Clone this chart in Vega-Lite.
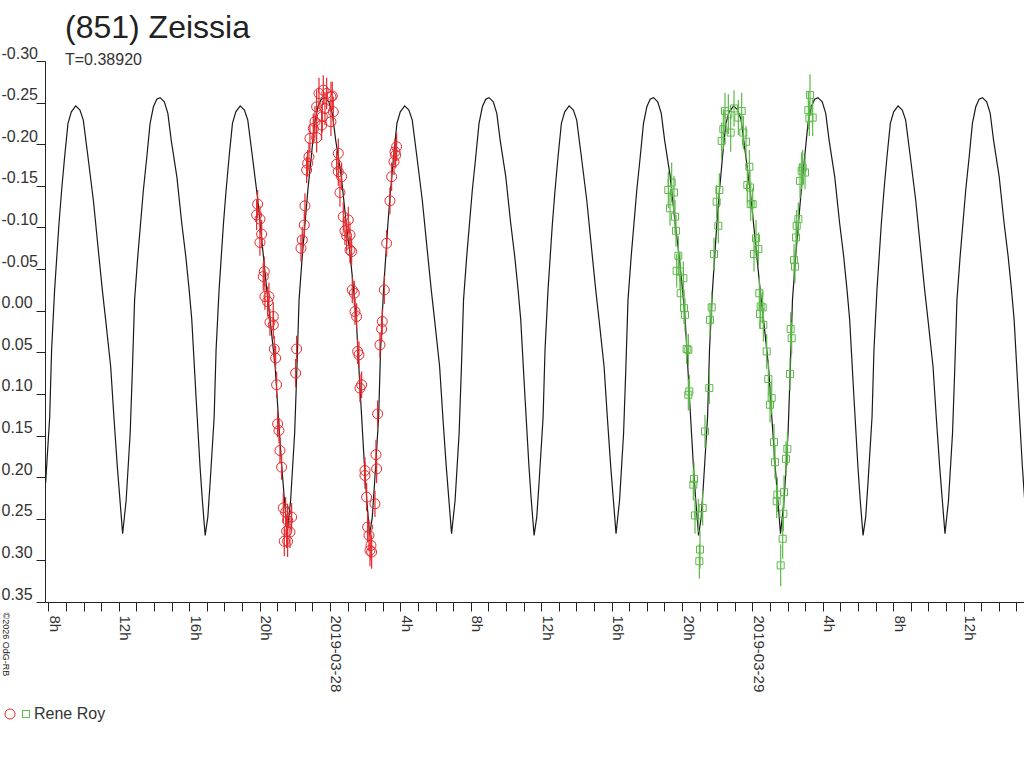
{
  "$schema": "https://vega.github.io/schema/vega-lite/v6.json",
  "width": 979,
  "height": 541,
  "autosize": {"type": "none"},
  "padding": {"left": 45, "top": 61, "right": 0, "bottom": 166},
  "background": "white",
  "config": {
    "view": {"stroke": null},
    "font": "Liberation Sans",
    "legend": {"columnPadding": 0, "padding": 0, "offset": 0}
  },
  "title": {
    "text": "(851) Zeissia",
    "subtitle": "T=0.38920",
    "anchor": "start",
    "frame": "group",
    "font": "Liberation Sans",
    "fontSize": 32,
    "fontWeight": "normal",
    "color": "#222222",
    "subtitleFont": "Liberation Sans",
    "subtitleFontSize": 16,
    "subtitleColor": "#333333",
    "subtitlePadding": 7,
    "dx": 20,
    "offset": -24
  },
  "datasets": {
    "curve": [
      {"h":-16.154,"m":0.207},{"h":-15.924,"m":0.128},{"h":-15.814,"m":0.047},{"h":-15.644,"m":-0.025},{"h":-15.394,"m":-0.105},{"h":-15.244,"m":-0.145},{"h":-15.074,"m":-0.185},{"h":-14.884,"m":-0.225},{"h":-14.694,"m":-0.239},{"h":-14.444,"m":-0.246},{"h":-14.204,"m":-0.241},{"h":-14.014,"m":-0.229},{"h":-13.749,"m":-0.185},{"h":-13.444,"m":-0.133},{"h":-13.124,"m":-0.065},{"h":-12.934,"m":-0.025},{"h":-12.744,"m":0.011},{"h":-12.459,"m":0.067},{"h":-12.274,"m":0.128},{"h":-12.079,"m":0.188},{"h":-11.854,"m":0.248},
      {"h":-11.78,"m":0.268},{"h":-11.58,"m":0.228},{"h":-11.35,"m":0.147},{"h":-11.22,"m":0.068},{"h":-11.10,"m":-0.013},{"h":-10.92,"m":-0.065},{"h":-10.60,"m":-0.145},{"h":-10.405,"m":-0.185},{"h":-10.22,"m":-0.225},{"h":-10.03,"m":-0.245},{"h":-9.84,"m":-0.254},{"h":-9.65,"m":-0.256},{"h":-9.41,"m":-0.251},{"h":-9.21,"m":-0.237},{"h":-9.02,"m":-0.205},{"h":-8.70,"m":-0.161},{"h":-8.42,"m":-0.105},{"h":-8.19,"m":-0.065},{"h":-8.00,"m":-0.025},{"h":-7.85,"m":0.011},{"h":-7.60,"m":0.107},{"h":-7.38,"m":0.188},{"h":-7.25,"m":0.228},{"h":-7.09,"m":0.270},{"h":-6.94,"m":0.248},{"h":-6.81,"m":0.207},{"h":-6.58,"m":0.128},{"h":-6.47,"m":0.047},{"h":-6.30,"m":-0.025},{"h":-6.05,"m":-0.105},{"h":-5.90,"m":-0.145},{"h":-5.73,"m":-0.185},{"h":-5.54,"m":-0.225},{"h":-5.35,"m":-0.239},{"h":-5.10,"m":-0.246},{"h":-4.86,"m":-0.241},{"h":-4.67,"m":-0.229},{"h":-4.405,"m":-0.185},{"h":-4.10,"m":-0.133},{"h":-3.78,"m":-0.065},{"h":-3.59,"m":-0.025},{"h":-3.40,"m":0.011},{"h":-3.115,"m":0.067},{"h":-2.93,"m":0.128},{"h":-2.735,"m":0.188},{"h":-2.51,"m":0.248},
      {"h":-2.436,"m":0.268},{"h":-2.236,"m":0.228},{"h":-2.006,"m":0.147},{"h":-1.876,"m":0.068},{"h":-1.756,"m":-0.013},{"h":-1.576,"m":-0.065},{"h":-1.256,"m":-0.145},{"h":-1.061,"m":-0.185},{"h":-0.876,"m":-0.225},{"h":-0.686,"m":-0.245},{"h":-0.496,"m":-0.254},{"h":-0.306,"m":-0.256},{"h":-0.066,"m":-0.251},{"h":0.134,"m":-0.237},{"h":0.324,"m":-0.205},{"h":0.644,"m":-0.161},{"h":0.924,"m":-0.105},{"h":1.154,"m":-0.065},{"h":1.344,"m":-0.025},{"h":1.494,"m":0.011},{"h":1.744,"m":0.107},{"h":1.964,"m":0.188},{"h":2.094,"m":0.228},{"h":2.254,"m":0.270},{"h":2.404,"m":0.248},{"h":2.534,"m":0.207},{"h":2.764,"m":0.128},{"h":2.874,"m":0.047},{"h":3.044,"m":-0.025},{"h":3.294,"m":-0.105},{"h":3.444,"m":-0.145},{"h":3.614,"m":-0.185},{"h":3.804,"m":-0.225},{"h":3.994,"m":-0.239},{"h":4.244,"m":-0.246},{"h":4.484,"m":-0.241},{"h":4.674,"m":-0.229},{"h":4.939,"m":-0.185},{"h":5.244,"m":-0.133},{"h":5.564,"m":-0.065},{"h":5.754,"m":-0.025},{"h":5.944,"m":0.011},{"h":6.229,"m":0.067},{"h":6.414,"m":0.128},{"h":6.609,"m":0.188},{"h":6.834,"m":0.248},
      {"h":6.908,"m":0.268},{"h":7.108,"m":0.228},{"h":7.338,"m":0.147},{"h":7.468,"m":0.068},{"h":7.588,"m":-0.013},{"h":7.768,"m":-0.065},{"h":8.088,"m":-0.145},{"h":8.283,"m":-0.185},{"h":8.468,"m":-0.225},{"h":8.658,"m":-0.245},{"h":8.848,"m":-0.254},{"h":9.038,"m":-0.256},{"h":9.278,"m":-0.251},{"h":9.478,"m":-0.237},{"h":9.668,"m":-0.205},{"h":9.988,"m":-0.161},{"h":10.268,"m":-0.105},{"h":10.498,"m":-0.065},{"h":10.688,"m":-0.025},{"h":10.838,"m":0.011},{"h":11.088,"m":0.107},{"h":11.308,"m":0.188},{"h":11.438,"m":0.228},{"h":11.598,"m":0.270},{"h":11.748,"m":0.248},{"h":11.878,"m":0.207},{"h":12.108,"m":0.128},{"h":12.218,"m":0.047},{"h":12.388,"m":-0.025},{"h":12.638,"m":-0.105},{"h":12.788,"m":-0.145},{"h":12.958,"m":-0.185},{"h":13.148,"m":-0.225},{"h":13.338,"m":-0.239},{"h":13.588,"m":-0.246},{"h":13.828,"m":-0.241},{"h":14.018,"m":-0.229},{"h":14.283,"m":-0.185},{"h":14.588,"m":-0.133},{"h":14.908,"m":-0.065},{"h":15.098,"m":-0.025},{"h":15.288,"m":0.011},{"h":15.573,"m":0.067},{"h":15.758,"m":0.128},{"h":15.953,"m":0.188},{"h":16.178,"m":0.248},
      {"h":16.252,"m":0.268},{"h":16.452,"m":0.228},{"h":16.682,"m":0.147},{"h":16.812,"m":0.068},{"h":16.932,"m":-0.013},{"h":17.112,"m":-0.065},{"h":17.432,"m":-0.145},{"h":17.627,"m":-0.185},{"h":17.812,"m":-0.225},{"h":18.002,"m":-0.245},{"h":18.192,"m":-0.254},{"h":18.382,"m":-0.256},{"h":18.622,"m":-0.251},{"h":18.822,"m":-0.237},{"h":19.012,"m":-0.205},{"h":19.332,"m":-0.161},{"h":19.612,"m":-0.105},{"h":19.842,"m":-0.065},{"h":20.032,"m":-0.025},{"h":20.182,"m":0.011},{"h":20.432,"m":0.107},{"h":20.652,"m":0.188},{"h":20.782,"m":0.228},{"h":20.942,"m":0.270},{"h":21.092,"m":0.248},{"h":21.222,"m":0.207},{"h":21.452,"m":0.128},{"h":21.562,"m":0.047},{"h":21.732,"m":-0.025},{"h":21.982,"m":-0.105},{"h":22.132,"m":-0.145},{"h":22.302,"m":-0.185},{"h":22.492,"m":-0.225},{"h":22.682,"m":-0.239},{"h":22.932,"m":-0.246},{"h":23.172,"m":-0.241},{"h":23.362,"m":-0.229},{"h":23.627,"m":-0.185},{"h":23.932,"m":-0.133},{"h":24.252,"m":-0.065},{"h":24.442,"m":-0.025},{"h":24.632,"m":0.011},{"h":24.917,"m":0.067},{"h":25.102,"m":0.128},{"h":25.297,"m":0.188},{"h":25.522,"m":0.248},
      {"h":25.596,"m":0.268},{"h":25.796,"m":0.228},{"h":26.026,"m":0.147},{"h":26.156,"m":0.068},{"h":26.276,"m":-0.013},{"h":26.456,"m":-0.065},{"h":26.776,"m":-0.145},{"h":26.971,"m":-0.185},{"h":27.156,"m":-0.225},{"h":27.346,"m":-0.245},{"h":27.536,"m":-0.254},{"h":27.726,"m":-0.256},{"h":27.966,"m":-0.251},{"h":28.166,"m":-0.237},{"h":28.356,"m":-0.205},{"h":28.676,"m":-0.161},{"h":28.956,"m":-0.105},{"h":29.186,"m":-0.065},{"h":29.376,"m":-0.025},{"h":29.526,"m":0.011},{"h":29.776,"m":0.107},{"h":29.996,"m":0.188},{"h":30.126,"m":0.228},{"h":30.286,"m":0.270},{"h":30.436,"m":0.248},{"h":30.566,"m":0.207},{"h":30.796,"m":0.128},{"h":30.906,"m":0.047},{"h":31.076,"m":-0.025},{"h":31.326,"m":-0.105},{"h":31.476,"m":-0.145},{"h":31.646,"m":-0.185},{"h":31.836,"m":-0.225},{"h":32.026,"m":-0.239},{"h":32.276,"m":-0.246},{"h":32.516,"m":-0.241},{"h":32.706,"m":-0.229},{"h":32.971,"m":-0.185},{"h":33.276,"m":-0.133},{"h":33.596,"m":-0.065},{"h":33.786,"m":-0.025},{"h":33.976,"m":0.011},{"h":34.261,"m":0.067},{"h":34.446,"m":0.128},{"h":34.641,"m":0.188},{"h":34.866,"m":0.248},
      {"h":34.94,"m":0.268},{"h":35.14,"m":0.228},{"h":35.37,"m":0.147},{"h":35.50,"m":0.068},{"h":35.62,"m":-0.013},{"h":35.80,"m":-0.065},{"h":36.12,"m":-0.145},{"h":36.315,"m":-0.185},{"h":36.50,"m":-0.225},{"h":36.69,"m":-0.245},{"h":36.88,"m":-0.254},{"h":37.07,"m":-0.256},{"h":37.31,"m":-0.251},{"h":37.51,"m":-0.237},{"h":37.70,"m":-0.205},{"h":38.02,"m":-0.161},{"h":38.30,"m":-0.105},{"h":38.53,"m":-0.065},{"h":38.72,"m":-0.025},{"h":38.87,"m":0.011},{"h":39.12,"m":0.107},{"h":39.34,"m":0.188},{"h":39.47,"m":0.228}
    ],
    "obs": [
      {"h":-4.110,"m":-0.128,"e":0.017,"n":"a"},{"h":-4.167,"m":-0.115,"e":0.018,"n":"a"},{"h":-3.978,"m":-0.110,"e":0.016,"n":"a"},{"h":-3.883,"m":-0.092,"e":0.017,"n":"a"},{"h":-3.978,"m":-0.082,"e":0.016,"n":"a"},{"h":-3.732,"m":-0.047,"e":0.018,"n":"a"},{"h":-3.788,"m":-0.041,"e":0.017,"n":"a"},{"h":-3.694,"m":-0.017,"e":0.016,"n":"a"},{"h":-3.466,"m":-0.017,"e":0.017,"n":"a"},{"h":-3.542,"m":-0.011,"e":0.018,"n":"a"},
      {"h":-3.220,"m":0.007,"e":0.017,"n":"a"},{"h":-3.410,"m":0.014,"e":0.016,"n":"a"},{"h":-3.220,"m":0.017,"e":0.017,"n":"a"},{"h":-3.163,"m":0.046,"e":0.016,"n":"a"},{"h":-3.088,"m":0.057,"e":0.015,"n":"a"},{"h":-3.031,"m":0.089,"e":0.016,"n":"a"},{"h":-2.974,"m":0.136,"e":0.016,"n":"a"},{"h":-2.898,"m":0.144,"e":0.015,"n":"a"},{"h":-2.841,"m":0.168,"e":0.016,"n":"a"},{"h":-2.747,"m":0.188,"e":0.015,"n":"a"},
      {"h":-2.652,"m":0.237,"e":0.018,"n":"a"},{"h":-2.519,"m":0.242,"e":0.018,"n":"a"},{"h":-2.178,"m":0.248,"e":0.017,"n":"a"},{"h":-2.406,"m":0.252,"e":0.020,"n":"a"},{"h":-2.273,"m":0.266,"e":0.019,"n":"a"},{"h":-2.595,"m":0.277,"e":0.018,"n":"a"},{"h":-2.406,"m":0.277,"e":0.019,"n":"a"},{"h":-2.463,"m":0.265,"e":0.020,"n":"a"},{"h":-1.951,"m":0.075,"e":0.017,"n":"a"},{"h":-1.894,"m":0.046,"e":0.016,"n":"a"},
      {"h":-1.648,"m":-0.075,"e":0.016,"n":"a"},{"h":-1.572,"m":-0.085,"e":0.016,"n":"a"},{"h":-1.459,"m":-0.103,"e":0.016,"n":"a"},{"h":-1.421,"m":-0.126,"e":0.015,"n":"a"},{"h":-1.326,"m":-0.169,"e":0.016,"n":"a"},{"h":-1.269,"m":-0.177,"e":0.016,"n":"a"},{"h":-1.194,"m":-0.185,"e":0.017,"n":"a"},{"h":-1.137,"m":-0.207,"e":0.017,"n":"a"},{"h":-0.947,"m":-0.219,"e":0.018,"n":"a"},{"h":-0.758,"m":-0.208,"e":0.018,"n":"a"},
      {"h":-0.853,"m":-0.227,"e":0.019,"n":"a"},{"h":-0.625,"m":-0.261,"e":0.019,"n":"a"},{"h":-0.758,"m":-0.245,"e":0.020,"n":"a"},{"h":-0.379,"m":-0.265,"e":0.018,"n":"a"},{"h":-0.190,"m":-0.261,"e":0.019,"n":"a"},{"h":-0.285,"m":-0.243,"e":0.020,"n":"a"},{"h":0.056,"m":-0.257,"e":0.018,"n":"a"},{"h":0.132,"m":-0.258,"e":0.017,"n":"a"},{"h":0.189,"m":-0.239,"e":0.018,"n":"a"},{"h":-0.436,"m":-0.233,"e":0.019,"n":"a"},
      {"h":-0.474,"m":-0.223,"e":0.018,"n":"a"},{"h":0.056,"m":-0.227,"e":0.017,"n":"a"},{"h":0.473,"m":-0.189,"e":0.018,"n":"a"},{"h":0.378,"m":-0.176,"e":0.016,"n":"a"},{"h":0.473,"m":-0.167,"e":0.017,"n":"a"},{"h":0.662,"m":-0.161,"e":0.016,"n":"a"},{"h":0.568,"m":-0.142,"e":0.017,"n":"a"},{"h":0.757,"m":-0.113,"e":0.018,"n":"a"},{"h":1.041,"m":-0.109,"e":0.016,"n":"a"},{"h":0.852,"m":-0.096,"e":0.017,"n":"a"},
      {"h":0.947,"m":-0.090,"e":0.017,"n":"a"},{"h":1.136,"m":-0.091,"e":0.016,"n":"a"},{"h":1.136,"m":-0.073,"e":0.016,"n":"a"},{"h":1.231,"m":-0.071,"e":0.016,"n":"a"},{"h":1.268,"m":-0.025,"e":0.016,"n":"a"},{"h":1.382,"m":-0.021,"e":0.015,"n":"a"},{"h":1.420,"m":0.001,"e":0.016,"n":"a"},{"h":1.515,"m":0.007,"e":0.016,"n":"a"},{"h":1.572,"m":0.049,"e":0.015,"n":"a"},{"h":1.647,"m":0.053,"e":0.016,"n":"a"},
      {"h":1.704,"m":0.093,"e":0.017,"n":"a"},{"h":1.799,"m":0.089,"e":0.016,"n":"a"},{"h":1.988,"m":0.192,"e":0.016,"n":"a"},{"h":1.988,"m":0.198,"e":0.016,"n":"a"},{"h":2.083,"m":0.224,"e":0.017,"n":"a"},{"h":2.140,"m":0.260,"e":0.018,"n":"a"},{"h":2.215,"m":0.270,"e":0.019,"n":"a"},{"h":2.329,"m":0.282,"e":0.018,"n":"a"},{"h":2.272,"m":0.288,"e":0.019,"n":"a"},{"h":2.367,"m":0.290,"e":0.020,"n":"a"},
      {"h":2.651,"m":0.190,"e":0.017,"n":"a"},{"h":2.556,"m":0.232,"e":0.016,"n":"a"},{"h":2.613,"m":0.173,"e":0.018,"n":"a"},{"h":2.708,"m":0.124,"e":0.016,"n":"a"},{"h":2.840,"m":0.041,"e":0.015,"n":"a"},{"h":2.935,"m":0.022,"e":0.016,"n":"a"},{"h":2.973,"m":0.013,"e":0.016,"n":"a"},{"h":3.087,"m":-0.025,"e":0.017,"n":"a"},{"h":3.219,"m":-0.081,"e":0.016,"n":"a"},{"h":3.409,"m":-0.132,"e":0.016,"n":"a"},
      {"h":3.503,"m":-0.161,"e":0.017,"n":"a"},{"h":3.636,"m":-0.179,"e":0.016,"n":"a"},{"h":3.693,"m":-0.191,"e":0.016,"n":"a"},{"h":3.787,"m":-0.197,"e":0.017,"n":"a"},{"h":3.731,"m":-0.187,"e":0.016,"n":"a"},
      {"h":19.223,"m":-0.145,"e":0.022,"n":"b"},{"h":19.413,"m":-0.154,"e":0.024,"n":"b"},{"h":19.545,"m":-0.142,"e":0.020,"n":"b"},{"h":19.318,"m":-0.123,"e":0.021,"n":"b"},{"h":19.602,"m":-0.113,"e":0.020,"n":"b"},{"h":19.659,"m":-0.096,"e":0.019,"n":"b"},{"h":19.792,"m":-0.066,"e":0.024,"n":"b"},{"h":19.697,"m":-0.048,"e":0.020,"n":"b"},{"h":19.886,"m":-0.047,"e":0.022,"n":"b"},{"h":20.076,"m":-0.039,"e":0.020,"n":"b"},
      {"h":19.924,"m":-0.021,"e":0.021,"n":"b"},{"h":20.114,"m":-0.003,"e":0.019,"n":"b"},{"h":20.170,"m":0.005,"e":0.020,"n":"b"},{"h":20.265,"m":0.046,"e":0.018,"n":"b"},{"h":20.360,"m":0.047,"e":0.019,"n":"b"},{"h":20.417,"m":0.097,"e":0.020,"n":"b"},{"h":20.360,"m":0.101,"e":0.019,"n":"b"},{"h":20.682,"m":0.202,"e":0.020,"n":"b"},{"h":20.644,"m":0.209,"e":0.019,"n":"b"},{"h":20.739,"m":0.246,"e":0.022,"n":"b"},
      {"h":20.928,"m":0.246,"e":0.020,"n":"b"},{"h":21.023,"m":0.287,"e":0.023,"n":"b"},{"h":20.985,"m":0.301,"e":0.021,"n":"b"},{"h":21.174,"m":0.237,"e":0.021,"n":"b"},{"h":21.307,"m":0.145,"e":0.020,"n":"b"},{"h":21.553,"m":0.093,"e":0.019,"n":"b"},{"h":21.591,"m":0.011,"e":0.020,"n":"b"},{"h":21.686,"m":-0.004,"e":0.019,"n":"b"},{"h":21.818,"m":-0.068,"e":0.020,"n":"b"},{"h":22.064,"m":-0.102,"e":0.021,"n":"b"},
      {"h":21.970,"m":-0.131,"e":0.020,"n":"b"},{"h":22.121,"m":-0.145,"e":0.020,"n":"b"},{"h":22.254,"m":-0.204,"e":0.022,"n":"b"},{"h":22.348,"m":-0.218,"e":0.024,"n":"b"},{"h":22.443,"m":-0.240,"e":0.022,"n":"b"},{"h":22.633,"m":-0.236,"e":0.024,"n":"b"},{"h":22.765,"m":-0.214,"e":0.023,"n":"b"},{"h":22.955,"m":-0.243,"e":0.022,"n":"b"},{"h":23.201,"m":-0.232,"e":0.021,"n":"b"},{"h":23.390,"m":-0.240,"e":0.022,"n":"b"},
      {"h":23.485,"m":-0.214,"e":0.020,"n":"b"},{"h":23.636,"m":-0.203,"e":0.019,"n":"b"},{"h":23.826,"m":-0.173,"e":0.020,"n":"b"},{"h":23.712,"m":-0.151,"e":0.021,"n":"b"},{"h":23.864,"m":-0.148,"e":0.020,"n":"b"},{"h":23.902,"m":-0.128,"e":0.020,"n":"b"},{"h":24.015,"m":-0.128,"e":0.019,"n":"b"},{"h":24.205,"m":-0.087,"e":0.022,"n":"b"},{"h":24.091,"m":-0.068,"e":0.021,"n":"b"},{"h":24.337,"m":-0.074,"e":0.020,"n":"b"},
      {"h":24.394,"m":-0.021,"e":0.019,"n":"b"},{"h":24.470,"m":-0.005,"e":0.020,"n":"b"},{"h":24.583,"m":-0.004,"e":0.019,"n":"b"},{"h":24.432,"m":0.004,"e":0.018,"n":"b"},{"h":24.621,"m":0.017,"e":0.020,"n":"b"},{"h":24.811,"m":0.049,"e":0.021,"n":"b"},{"h":24.905,"m":0.082,"e":0.020,"n":"b"},{"h":25.095,"m":0.105,"e":0.020,"n":"b"},{"h":25.000,"m":0.113,"e":0.021,"n":"b"},{"h":25.227,"m":0.158,"e":0.022,"n":"b"},
      {"h":25.284,"m":0.182,"e":0.020,"n":"b"},{"h":25.417,"m":0.221,"e":0.021,"n":"b"},{"h":25.379,"m":0.229,"e":0.020,"n":"b"},{"h":25.795,"m":0.218,"e":0.020,"n":"b"},{"h":25.758,"m":0.244,"e":0.021,"n":"b"},{"h":25.720,"m":0.274,"e":0.024,"n":"b"},{"h":25.606,"m":0.306,"e":0.025,"n":"b"},{"h":25.909,"m":0.178,"e":0.021,"n":"b"},{"h":25.985,"m":0.166,"e":0.020,"n":"b"},{"h":26.136,"m":0.076,"e":0.020,"n":"b"},
      {"h":26.231,"m":0.033,"e":0.019,"n":"b"},{"h":26.174,"m":0.022,"e":0.020,"n":"b"},{"h":26.420,"m":-0.053,"e":0.020,"n":"b"},{"h":26.364,"m":-0.061,"e":0.019,"n":"b"},{"h":26.477,"m":-0.088,"e":0.020,"n":"b"},{"h":26.515,"m":-0.102,"e":0.019,"n":"b"},{"h":26.610,"m":-0.110,"e":0.020,"n":"b"},{"h":26.705,"m":-0.156,"e":0.021,"n":"b"},{"h":26.799,"m":-0.168,"e":0.022,"n":"b"},{"h":26.989,"m":-0.166,"e":0.020,"n":"b"},
      {"h":26.856,"m":-0.172,"e":0.021,"n":"b"},{"h":27.235,"m":-0.231,"e":0.021,"n":"b"},{"h":27.424,"m":-0.232,"e":0.022,"n":"b"},{"h":27.178,"m":-0.241,"e":0.023,"n":"b"},{"h":27.273,"m":-0.259,"e":0.025,"n":"b"}
    ]
  },
  "encoding": {
    "x": {
      "field": "h",
      "type": "quantitative",
      "scale": {"domain": [-16.19, 39.43], "nice": false, "zero": false},
      "axis": {
        "title": null,
        "grid": false,
        "values": [-16,-15,-14,-13,-12,-11,-10,-9,-8,-7,-6,-5,-4,-3,-2,-1,0,1,2,3,4,5,6,7,8,9,10,11,12,13,14,15,16,17,18,19,20,21,22,23,24,25,26,27,28,29,30,31,32,33,34,35,36,37,38,39],
        "labelExpr": "datum.value % 4 != 0 ? '' : (datum.value == 0 ? '2019-03-28' : (datum.value == 24 ? '2019-03-29' : ((datum.value % 24 + 24) % 24) + 'h'))",
        "labelOverlap": false,
        "labelAngle": 90,
        "labelAlign": "left",
        "labelBaseline": "alphabetic",
        "labelOffset": 1,
        "labelPadding": 4,
        "labelFont": "Liberation Sans",
        "labelFontSize": 15,
        "labelColor": "#333333",
        "labelBound": false,
        "labelFlush": false,
        "tickSize": 9,
        "tickColor": "#222222",
        "domainColor": "#222222"
      }
    },
    "y": {
      "field": "m",
      "type": "quantitative",
      "scale": {"domain": [-0.3, 0.35], "reverse": true, "nice": false, "zero": false},
      "axis": {
        "title": "©2026 OdG-RB",
        "titleAngle": 90,
        "titleX": -40,
        "titleY": 551,
        "titleAlign": "left",
        "titleBaseline": "middle",
        "titleFont": "Liberation Sans",
        "titleFontSize": 9,
        "titleFontWeight": "normal",
        "titleColor": "#222222",
        "grid": false,
        "values": [-0.3,-0.25,-0.2,-0.15,-0.1,-0.05,0,0.05,0.1,0.15,0.2,0.25,0.3,0.35],
        "labelExpr": "replace(format(datum.value, '.2f'), '\u2212', '-')",
        "labelAlign": "left",
        "labelBaseline": "alphabetic",
        "labelOffset": -3,
        "labelPadding": 35,
        "labelFont": "Liberation Sans",
        "labelFontSize": 16,
        "labelColor": "#333333",
        "labelBound": false,
        "labelFlush": false,
        "labelOverlap": false,
        "tickSize": 9,
        "tickColor": "#222222",
        "domainColor": "#222222"
      }
    }
  },
  "layer": [
    {
      "data": {"name": "curve"},
      "mark": {"type": "line", "color": "#1a1a1a", "strokeWidth": 1.2, "clip": true},
      "encoding": {}
    },
    {
      "data": {"name": "obs"},
      "mark": {"type": "errorbar", "thickness": 1.2},
      "encoding": {
        "yError": {"field": "e"},
        "color": {"condition": {"test": "datum.n == 'a'", "value": "#e8282c"}, "value": "#5cba48"}
      }
    },
    {
      "data": {"name": "obs"},
      "mark": {"type": "point", "filled": false, "strokeWidth": 1, "opacity": 1},
      "encoding": {
        "color": {
          "field": "n",
          "type": "nominal",
          "scale": {"domain": ["a", "b"], "range": ["#e8282c", "#5cba48"]},
          "legend": {
            "title": null,
            "orient": "none",
            "legendX": -43,
            "legendY": 645,
            "direction": "horizontal",
            "labelExpr": "datum.value == 'b' ? '\u00a0Rene Roy' : ''",
            "labelFont": "Liberation Sans",
            "labelFontSize": 16,
            "labelColor": "#333333",
            "labelOffset": 0,
            "columnPadding": 0,
            "symbolStrokeWidth": 1
          }
        },
        "shape": {
          "field": "n",
          "type": "nominal",
          "scale": {"domain": ["a", "b"], "range": ["circle", "square"]},
          "legend": {
            "title": null,
            "orient": "none",
            "legendX": -43,
            "legendY": 645,
            "direction": "horizontal",
            "labelExpr": "datum.value == 'b' ? '\u00a0Rene Roy' : ''",
            "labelFont": "Liberation Sans",
            "labelFontSize": 16,
            "labelColor": "#333333",
            "labelOffset": 0,
            "columnPadding": 0,
            "symbolStrokeWidth": 1
          }
        },
        "size": {
          "field": "n",
          "type": "nominal",
          "scale": {"domain": ["a", "b"], "range": [100, 49]},
          "legend": {
            "title": null,
            "orient": "none",
            "legendX": -43,
            "legendY": 645,
            "direction": "horizontal",
            "labelExpr": "datum.value == 'b' ? '\u00a0Rene Roy' : ''",
            "labelFont": "Liberation Sans",
            "labelFontSize": 16,
            "labelColor": "#333333",
            "labelOffset": 0,
            "columnPadding": 0,
            "symbolStrokeWidth": 1
          }
        }
      }
    }
  ]
}
